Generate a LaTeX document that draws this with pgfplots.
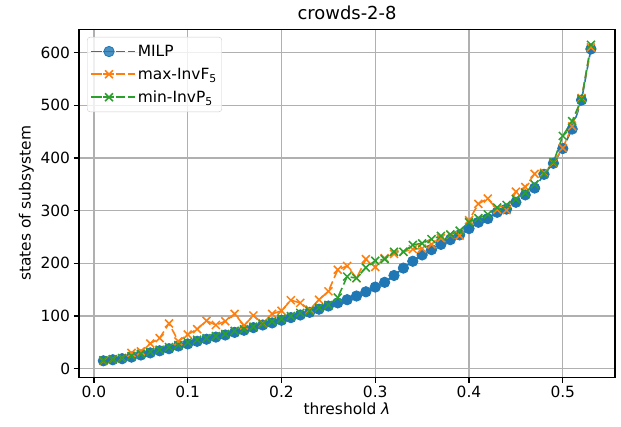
\documentclass[border=0pt]{standalone}
\usepackage{fontspec}
\setmainfont{DejaVu Sans}
\usepackage{pgfplots}
\usepackage{pgfplotstable}
\pgfplotsset{compat=1.18}

\definecolor{c0}{HTML}{1F77B4}
\definecolor{c1}{HTML}{FF7F0E}
\definecolor{c2}{HTML}{2CA02C}

% threshold, MILP, max-InvF5, min-InvP5
\pgfplotstableread{
x    milp maxf minp
0.01 15   15   16
0.02 17   18   18
0.03 19   20   20
0.04 22   30   24
0.05 26   33   28
0.06 30   48   32
0.07 34   58   36
0.08 38   86   41
0.09 43   52   45
0.10 47   65   50
0.11 52   75   55
0.12 56   91   58
0.13 60   83   62
0.14 64   90   66
0.15 69   104  72
0.16 73   82   75
0.17 78   101  80
0.18 83   86   85
0.19 87   104  90
0.20 92   110  95
0.21 97   130  100
0.22 102  125  106
0.23 107  112  110
0.24 113  131  116
0.25 119  147  121
0.26 125  188  135
0.27 131  195  175
0.28 138  172  172
0.29 146  208  192
0.30 155  193  205
0.31 164  210  208
0.32 177  218  222
0.33 191  222  222
0.34 204  227  235
0.35 216  228  238
0.36 226  236  246
0.37 236  248  252
0.38 245  254  255
0.39 254  253  262
0.40 266  282  278
0.41 278  313  286
0.42 285  323  293
0.43 297  302  306
0.44 303  301  311
0.45 316  336  322
0.46 330  345  334
0.47 343  370  350
0.48 369  372  370
0.49 390  391  392
0.50 418  419  442
0.51 455  460  470
0.52 510  514  512
0.53 607  610  615
}\datatable

\begin{document}
\begin{tikzpicture}
\begin{axis}[
    name=ax,
    width=536bp, height=348bp, scale only axis,
    xmin=-0.016, xmax=0.5557, ymin=-16.3, ymax=644.4,
    xtick={0,0.1,0.2,0.3,0.4,0.5},
    ytick={0,100,200,300,400,500,600},
    xticklabel style={/pgf/number format/.cd,fixed,fixed zerofill,precision=1},
    /pgf/number format/assume math mode=true,
    xtick pos=bottom, ytick pos=left,
    tick align=outside,
    major tick length=5.4bp,
    tick style={black, line width=1.2bp},
    axis line style={line width=1.2bp},
    grid=major,
    major grid style={color=black!31, line width=1.2bp},
    font=\fontsize{15.5}{18}\selectfont,
    tick label style={font=\fontsize{15.5}{18}\selectfont},
    label style={font=\fontsize{15.5}{18}\selectfont},
    xlabel style={yshift=2bp},
    title style={font=\fontsize{18}{21}\selectfont, yshift=0bp},
    title={crowds-2-8},
    xlabel={threshold \textit{λ}},
    ylabel={states of subsystem},
    legend style={at={(0.015,0.978)}, anchor=north west,
        draw=black!20, rounded corners=3bp, fill=white, fill opacity=0.8,
        text opacity=1, font=\fontsize{15.5}{18}\selectfont,
        row sep=6bp, inner xsep=3bp, inner ysep=6bp},
    legend cell align=left,
    legend image code/.code={%
        \path (0bp,0bp) -- (44bp,0bp);
        \draw[mark repeat=2,mark phase=2,#1]
        plot coordinates {(2bp,0bp) (18bp,0bp) (34bp,0bp)};},
    every axis plot/.append style={line width=1.6bp, dash pattern=on 8.6bp off 3.7bp},
]
\addplot[color=c0, draw=c0, mark=*, mark size=5.2bp,
    mark options={solid, fill=c0, draw=c0, line width=0.8bp}]
    table[x=x, y=milp] {\datatable};
\addlegendentry{MILP}
\addplot[color=c1, mark=x, mark size=5.6bp,
    mark options={solid, line width=1.55bp}]
    table[x=x, y=maxf] {\datatable};
\addlegendentry{max-InvF\textsubscript{5}}
\addplot[color=c2, mark=x, mark size=5.6bp,
    mark options={solid, line width=1.55bp}]
    table[x=x, y=minp] {\datatable};
\addlegendentry{min-InvP\textsubscript{5}}
\end{axis}
\pgfresetboundingbox
\path[use as bounding box] ([shift={(-79bp,-49.7bp)}]ax.south west)
    rectangle ([shift={(6bp,29.3bp)}]ax.north east);
\end{tikzpicture}
\end{document}
